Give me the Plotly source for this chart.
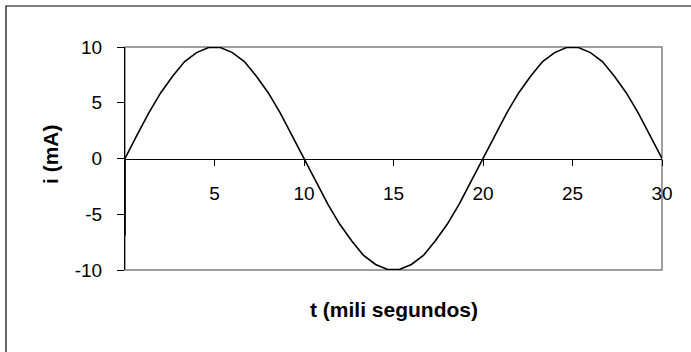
import plotly.graph_objects as go

# time (ms) and current (mA); first point is the short drop at t=0
t_ms = [0, 0, 0.67, 1.33, 2.0, 2.67, 3.33, 4.0, 4.67, 5.33, 6.0, 6.67, 7.33, 8.0, 8.67, 9.33,
        10.0, 10.67, 11.33, 12.0, 12.67, 13.33, 14.0, 14.67, 15.33, 16.0, 16.67, 17.33, 18.0,
        18.67, 19.33, 20.0, 20.67, 21.33, 22.0, 22.67, 23.33, 24.0, 24.67, 25.33, 26.0, 26.67,
        27.33, 28.0, 28.67, 29.33, 30.0]
i_mA = [-6.9, 0, 2.1, 4.1, 5.9, 7.4, 8.7, 9.5, 9.95, 9.95, 9.5, 8.7, 7.4, 5.9, 4.1, 2.1,
        0, -2.1, -4.1, -5.9, -7.4, -8.7, -9.5, -9.95, -9.95, -9.5, -8.7, -7.4, -5.9,
        -4.1, -2.1, 0, 2.1, 4.1, 5.9, 7.4, 8.7, 9.5, 9.95, 9.95, 9.5, 8.7,
        7.4, 5.9, 4.1, 2.1, 0]

x_ticks = [5, 10, 15, 20, 25, 30]
y_ticks = [-10, -5, 0, 5, 10]
x_title = "t (mili segundos)"
y_title = "i (mA)"

FONT = "Liberation Sans, Arial, sans-serif"
W, H = 691, 352
L, R, T, B = 125, 29, 47, 82
pw, ph = W - L - R, H - T - B


def px_x(p):
    return (p - L) / pw


def px_y(p):
    return (H - B - p) / ph


fig = go.Figure()
fig.add_trace(go.Scatter(x=t_ms, y=i_mA, mode="lines",
                         line=dict(color="black", width=1.6), showlegend=False,
                         hoverinfo="skip"))

fig.update_layout(
    width=W, height=H,
    margin=dict(l=L, r=R, t=T, b=B),
    paper_bgcolor="white", plot_bgcolor="white",
    font=dict(family=FONT, size=19, color="black"),
    xaxis=dict(range=[0, 30], tickvals=x_ticks, ticktext=[str(v) for v in x_ticks],
               showgrid=False, zeroline=False, showline=True, linecolor="black",
               linewidth=1, ticks="outside", ticklen=6, tickcolor="black",
               anchor="free", position=0.5, ticklabelstandoff=12,
               tickfont=dict(size=19, family=FONT)),
    yaxis=dict(range=[-10, 10], tickvals=y_ticks, ticktext=[str(v) for v in y_ticks],
               showgrid=False, zeroline=False, showline=True, linecolor="black",
               linewidth=1, ticks="outside", ticklen=7, tickcolor="black",
               ticklabelstandoff=11, tickfont=dict(size=19, family=FONT)),
    shapes=[
        # plot area border (grey)
        dict(type="rect", xref="paper", yref="paper", x0=0, x1=1, y0=0, y1=1,
             line=dict(color="#808080", width=1.5), layer="below"),
        # outer chart border (extends beyond the picture on right/bottom)
        dict(type="rect", xref="paper", yref="paper",
             x0=px_x(6), x1=px_x(720), y0=px_y(380), y1=px_y(6),
             line=dict(color="black", width=1.2), layer="below"),
    ],
    annotations=[
        dict(text="<b>" + x_title + "</b>", xref="paper", yref="paper",
             x=px_x(394), y=px_y(309), showarrow=False,
             font=dict(size=21, family=FONT), xanchor="center", yanchor="middle"),
        dict(text="<b>" + y_title + "</b>", xref="paper", yref="paper",
             x=px_x(50), y=px_y(154), showarrow=False, textangle=-90,
             font=dict(size=21, family=FONT), xanchor="center", yanchor="middle"),
    ],
)

fig.write_html("out.html", config={"displayModeBar": False},
               post_script="document.body.style.margin='0px';")
